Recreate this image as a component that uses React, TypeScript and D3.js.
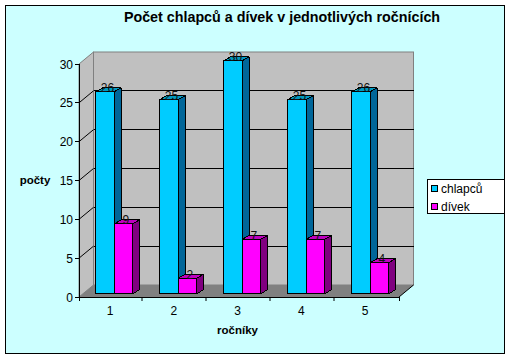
import React from "react";
import * as d3 from "d3";

const categories = ["1", "2", "3", "4", "5"];
const chlapcu = [26, 25, 30, 25, 26];
const divek = [9, 2, 7, 7, 4];
const yTicks = [0, 5, 10, 15, 20, 25, 30];
const title = "Počet chlapců a dívek v jednotlivých ročnících";
const seriesNames = ["chlapců", "dívek"];

const FONT = "'Liberation Sans', Arial, sans-serif";
const left = 79, right = 399, y0 = 297, y30 = 64;
const depthX = 14.5, depthY = 12;
const barDX = 7, barDY = 4, barBase = 3.2, barOff = 16.7, barW = 18.4;

const x = d3.scaleBand<string>().domain(categories).range([left, right]);
const y = d3.scaleLinear().domain([0, 30]).range([y0, y30]);

function Bar({ bx, value, front, side, top }: { bx: number; value: number; front: string; side: string; top: string }) {
  const yb = y(0) - barBase;
  const yt = y(value) - barBase;
  const x1 = bx + barW;
  return (
    <g stroke="#000" strokeWidth={1} strokeLinejoin="round" shapeRendering="crispEdges">
      <polygon points={`${x1},${yb} ${x1 + barDX},${yb - barDY} ${x1 + barDX},${yt - barDY} ${x1},${yt}`} fill={side} />
      <polygon points={`${bx},${yt} ${bx + barDX},${yt - barDY} ${x1 + barDX},${yt - barDY} ${x1},${yt}`} fill={top} />
      <rect x={bx} y={yt} width={barW} height={yb - yt} fill={front} />
    </g>
  );
}

export default function App() {
  return (
    <svg width={509} height={356} style={{ position: "absolute", left: 0, top: 0 }} fontFamily={FONT}>
      <rect x={0} y={0} width={509} height={356} fill="#fff" />
      <rect x={5.5} y={5.5} width={499} height={348} fill="#CCFFFF" stroke="#000" strokeWidth={1} />
      <text x={282} y={22} textAnchor="middle" fontSize={14.3} fontWeight={700} fill="#000">{title}</text>

      {/* walls */}
      <polygon points={`${left},${y30} ${left + depthX},${y30 - depthY} ${left + depthX},${y0 - depthY} ${left},${y0}`} fill="#C0C0C0" stroke="#808080" />
      <rect x={left + depthX} y={y30 - depthY} width={right - left} height={y0 - y30} fill="#C0C0C0" stroke="#808080" />
      <polygon points={`${left},${y0} ${left + depthX},${y0 - depthY} ${right + depthX},${y0 - depthY} ${right},${y0}`} fill="#808080" />

      {/* gridlines */}
      {yTicks.filter((t) => t > 0 && t < 30).map((t) => (
        <g key={t} stroke="#000" fill="none">
          <line x1={left} y1={y(t)} x2={left + depthX} y2={y(t) - depthY} />
          <line x1={left + depthX} y1={y(t) - depthY} x2={right + depthX} y2={y(t) - depthY} shapeRendering="crispEdges" />
        </g>
      ))}

      {/* bars */}
      {categories.map((c, i) => {
        const bx = x(c)! + barOff;
        return (
          <g key={c}>
            <Bar bx={bx} value={chlapcu[i]} front="#00CCFF" side="#006699" top="#0099BF" />
            <Bar bx={bx + barW} value={divek[i]} front="#FF00FF" side="#800080" top="#BF00BF" />
            <text x={bx + barW / 2 + 2.5} y={y(chlapcu[i]) - barBase + 0.5} textAnchor="middle" fontSize={12} fill="#111">{chlapcu[i]}</text>
            <text x={bx + barW * 1.5 + 2.5} y={y(divek[i]) - barBase + 0.5} textAnchor="middle" fontSize={12} fill="#111">{divek[i]}</text>
          </g>
        );
      })}

      {/* axes */}
      <line x1={left + 0.5} x2={left + 0.5} y1={y30} y2={y0 + 4} stroke="#000" />
      <line x1={left} x2={right} y1={y0 + 0.5} y2={y0 + 0.5} stroke="#000" />
      <line x1={right} y1={y0} x2={right + depthX} y2={y0 - depthY} stroke="#000" />
      {yTicks.map((t) => (
        <g key={t}>
          <line x1={left - 4} x2={left} y1={y(t)} y2={y(t)} stroke="#000" shapeRendering="crispEdges" />
          <text x={left - 6} y={y(t) + 4.5} textAnchor="end" fontSize={12} fill="#000">{t}</text>
        </g>
      ))}
      {categories.map((c, i) => (
        <g key={c}>
          <line x1={x(c)! + x.bandwidth() + 0.5 - (i < 4 ? 1.5 : 0)} x2={x(c)! + x.bandwidth() + 0.5 - (i < 4 ? 1.5 : 0)} y1={y0} y2={y0 + 4} stroke="#000" />
          <text x={x(c)! + x.bandwidth() / 2 - 1 - i * 0.25} y={315} textAnchor="middle" fontSize={12} fill="#000">{c}</text>
        </g>
      ))}

      <text x={35} y={184} textAnchor="middle" fontSize={11.5} fontWeight={700} fill="#000">počty</text>
      <text x={237.5} y={334} textAnchor="middle" fontSize={11.5} fontWeight={700} fill="#000">ročníky</text>

      {/* legend */}
      <rect x={427.5} y={179.5} width={77} height={34} fill="#fff" stroke="#000" />
      {seriesNames.map((n, i) => (
        <g key={n}>
          <rect x={431.5} y={185.5 + i * 18} width={6} height={6} fill={i === 0 ? "#00CCFF" : "#FF00FF"} stroke="#000" />
          <text x={441} y={193 + i * 18} fontSize={12} fill="#000">{n}</text>
        </g>
      ))}
    </svg>
  );
}
